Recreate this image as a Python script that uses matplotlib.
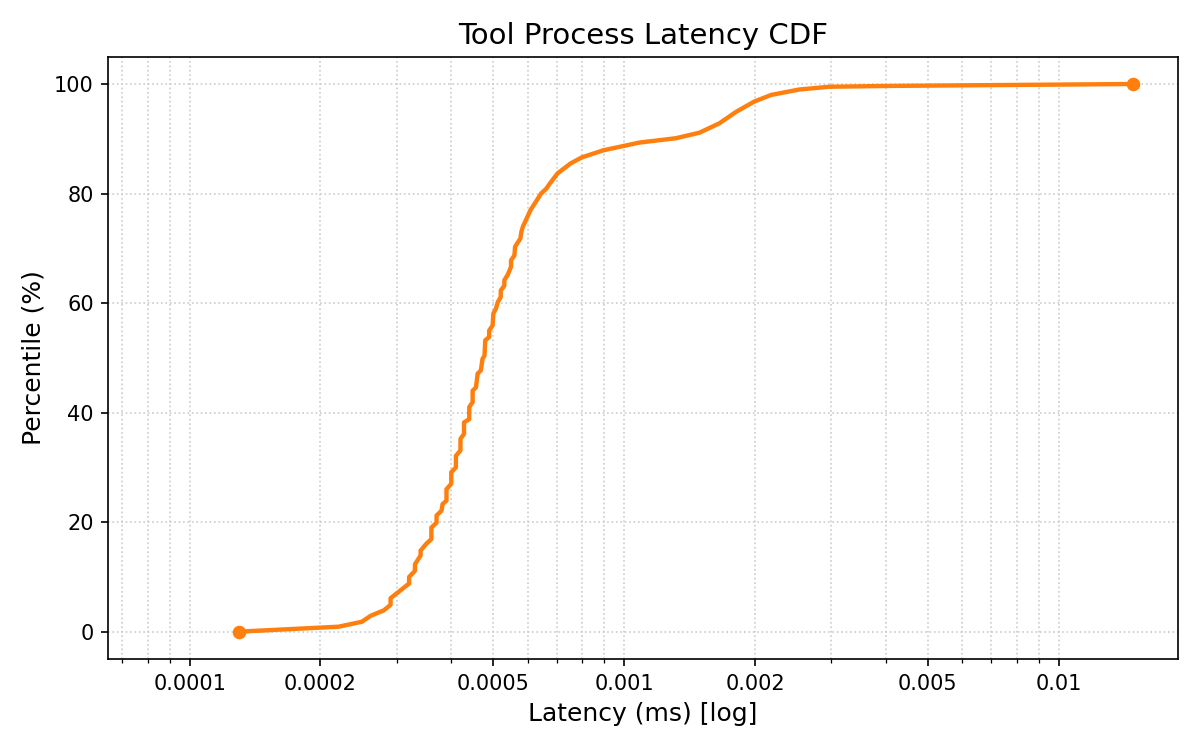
import matplotlib
matplotlib.use("Agg")
import matplotlib.pyplot as plt
from matplotlib.ticker import FixedLocator, LogLocator, NullFormatter

# latency (ms), with the matching percentile
latency_ms = [
    0.000130, 0.000220, 0.000249, 0.000261, 0.000280, 0.000290, 0.000290,
    0.000320, 0.000320, 0.000330, 0.000330, 0.000340, 0.000340, 0.000350,
    0.000360, 0.000360, 0.000370, 0.000370, 0.000380, 0.000382, 0.000390,
    0.000390, 0.000400, 0.000400, 0.000410, 0.000410, 0.000420, 0.000420,
    0.000428, 0.000428, 0.000440, 0.000440, 0.000448, 0.000448, 0.000456,
    0.000460, 0.000468, 0.000472, 0.000477, 0.000479, 0.000489, 0.000489,
    0.000498, 0.000500, 0.000507, 0.000512, 0.000520, 0.000520, 0.000530,
    0.000530, 0.000539, 0.000549, 0.000549, 0.000559, 0.000561, 0.000577,
    0.000580, 0.000585, 0.000609, 0.000644, 0.000662, 0.000674, 0.000703,
    0.000753, 0.000799, 0.000896, 0.000999, 0.001083, 0.001315, 0.001489,
    0.001655, 0.001808, 0.001993, 0.002178, 0.002531, 0.002968, 0.004080,
    0.014830,
]
percentile = [
    0.0, 0.9, 1.8, 2.9, 3.9, 4.9, 6.1,
    8.8, 10.0, 11.1, 12.3, 13.9, 14.8, 16.0,
    16.9, 19.0, 19.9, 21.2, 22.1, 23.3, 23.9,
    26.0, 27.0, 29.1, 30.0, 32.1, 33.1, 35.2,
    36.1, 38.2, 38.8, 41.0, 41.9, 44.0, 44.6,
    47.1, 47.7, 49.8, 50.4, 53.2, 53.8, 55.0,
    55.9, 58.1, 59.0, 60.2, 61.1, 62.3, 63.2,
    64.2, 65.1, 66.6, 67.8, 68.7, 70.3, 71.8,
    73.0, 74.0, 77.0, 80.0, 80.9, 81.8, 83.7,
    85.5, 86.6, 87.9, 88.7, 89.3, 90.1, 91.1,
    92.8, 94.9, 96.8, 98.0, 99.0, 99.5, 99.65,
    100.0,
]

x_ticks = [0.0001, 0.0002, 0.0005, 0.001, 0.002, 0.005, 0.01]
x_tick_labels = ["0.0001", "0.0002", "0.0005", "0.001", "0.002", "0.005", "0.01"]
y_ticks = [0, 20, 40, 60, 80, 100]

fig, ax = plt.subplots(figsize=(8, 5), dpi=150)
fig.subplots_adjust(left=0.0903, right=0.9815, top=0.9245, bottom=0.1213)

ax.plot(latency_ms, percentile, color="#ff7f0e", lw=2.1)
ax.plot([latency_ms[0], latency_ms[-1]], [percentile[0], percentile[-1]],
        "o", color="#ff7f0e", ms=5.5)

ax.set_xscale("log")
ax.set_xlim(latency_ms[0] / 2, 0.0188)
ax.set_ylim(-5, 105)
ax.xaxis.set_major_locator(FixedLocator(x_ticks))
ax.set_xticklabels(x_tick_labels)
ax.xaxis.set_minor_locator(LogLocator(base=10, subs=range(1, 10), numticks=20))
ax.xaxis.set_minor_formatter(NullFormatter())
ax.set_yticks(y_ticks)

ax.grid(True, which="both", ls=":", color="#cccccc", lw=0.8)
ax.set_axisbelow(True)

ax.set_title("Tool Process Latency CDF", fontsize=14)
ax.set_xlabel("Latency (ms) [log]", fontsize=12)
ax.set_ylabel("Percentile (%)", fontsize=12)

fig.savefig("out.png")
